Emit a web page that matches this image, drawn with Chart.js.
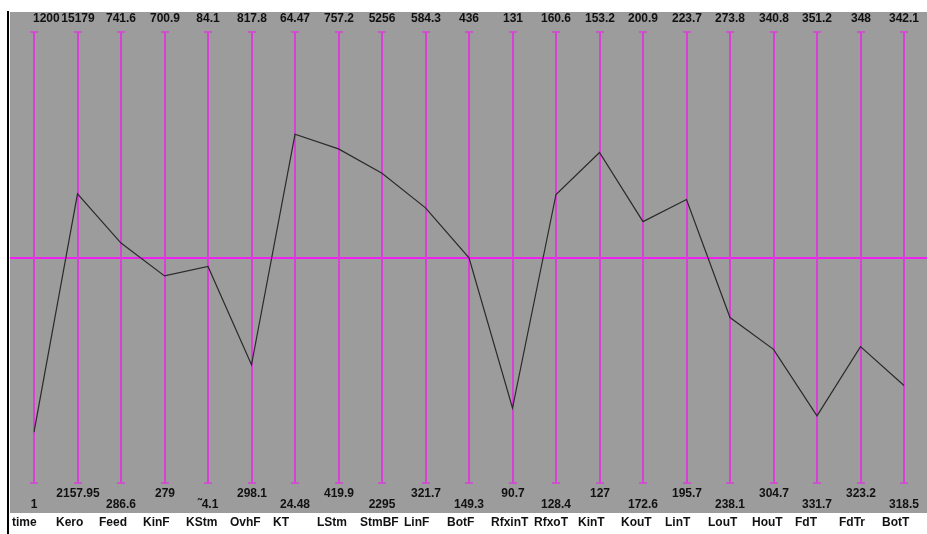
<!DOCTYPE html>
<html>
<head>
<meta charset="utf-8">
<script src="https://cdn.jsdelivr.net/npm/chart.js@4/dist/chart.umd.min.js"></script>
<style>
  html, body { margin: 0; padding: 0; background: #ffffff; }
  #wrap { width: 927px; height: 534px; position: relative; }
</style>
</head>
<body>
<div id="wrap"><canvas id="c" width="927" height="534"></canvas></div>
<script>
// Process tags shown as parallel axes
const categories = ["time", "Kero", "Feed", "KinF", "KStm", "OvhF", "KT", "LStm", "StmBF", "LinF",
  "BotF", "RfxinT", "RfxoT", "KinT", "KouT", "LinT", "LouT", "HouT", "FdT", "FdTr", "BotT"];

// Range of each axis (top = maximum, bottom = minimum)
const maxValues = [1200, 15179, 741.6, 700.9, 84.1, 817.8, 64.47, 757.2, 5256, 584.3,
  436, 131, 160.6, 153.2, 200.9, 223.7, 273.8, 340.8, 351.2, 348, 342.1];
const minValues = [1, 2157.95, 286.6, 279, 74.1, 298.1, 24.48, 419.9, 2295, 321.7,
  149.3, 90.7, 128.4, 127, 172.6, 195.7, 238.1, 304.7, 331.7, 323.2, 318.5];

// Tick labels printed at the ends of each axis
const maxLabels = ["1200", "15179", "741.6", "700.9", "84.1", "817.8", "64.47", "757.2", "5256", "584.3",
  "436", "131", "160.6", "153.2", "200.9", "223.7", "273.8", "340.8", "351.2", "348", "342.1"];
const minLabels = ["1", "2157.95", "286.6", "279", "\u02dc4.1", "298.1", "24.48", "419.9", "2295", "321.7",
  "149.3", "90.7", "128.4", "127", "172.6", "195.7", "238.1", "304.7", "331.7", "323.2", "318.5"];

// Current value of each tag
const values = [136, 10504, 528.7, 472.7, 78.9, 434.3, 55.4, 669.8, 4329, 481.9,
  292.4, 97.4, 149.0, 146.2, 189.0, 213.3, 251.2, 315.4, 334.6, 330.7, 323.6];

// Each tag is scaled into 0..1 on its own axis
const normalized = values.map((v, i) => (v - minValues[i]) / (maxValues[i] - minValues[i]));

const MAGENTA = "#d840d8";
const BG = "#9c9c9c";
const FONT = "bold 12px 'Liberation Sans', Arial, sans-serif";

const frame = {
  id: "frame",
  beforeDraw(chart) {
    const ctx = chart.ctx;
    const y = chart.scales.y;
    ctx.save();
    ctx.fillStyle = "#ffffff";
    ctx.fillRect(0, 0, chart.width, chart.height);
    ctx.fillStyle = BG;
    ctx.fillRect(10, 12, chart.width - 10, 501);
    ctx.fillStyle = "#000000";
    ctx.fillRect(7, 11, 2, chart.height - 11);
    ctx.restore();
  },
  beforeDatasetsDraw(chart) {
    const ctx = chart.ctx;
    const xs = chart.scales.x;
    const ys = chart.scales.y;
    const top = ys.getPixelForValue(1);
    const bot = ys.getPixelForValue(0);
    ctx.save();
    // centre line
    ctx.strokeStyle = "#f020f0";
    ctx.lineWidth = 2;
    const mid = Math.round(ys.getPixelForValue(0.5));
    ctx.beginPath();
    ctx.moveTo(10, mid);
    ctx.lineTo(chart.width, mid);
    ctx.stroke();
    // one vertical axis per tag, capped at both ends
    ctx.strokeStyle = MAGENTA;
    categories.forEach((c, i) => {
      const x = Math.round(xs.getPixelForValue(i));
      ctx.lineWidth = 2;
      ctx.beginPath();
      ctx.moveTo(x, top);
      ctx.lineTo(x, bot);
      ctx.stroke();
      ctx.lineWidth = 1.5;
      ctx.beginPath();
      ctx.moveTo(x - 4, top);
      ctx.lineTo(x + 4, top);
      ctx.moveTo(x - 4, bot);
      ctx.lineTo(x + 4, bot);
      ctx.stroke();
    });
    // axis end labels and tag names
    ctx.font = FONT;
    ctx.fillStyle = "#111111";
    ctx.textBaseline = "middle";
    categories.forEach((c, i) => {
      const x = Math.round(xs.getPixelForValue(i));
      ctx.textAlign = i === 0 ? "left" : "center";
      ctx.fillText(maxLabels[i], i === 0 ? x - 1 : x, 19);
      ctx.textAlign = "center";
      ctx.fillText(minLabels[i], x, i % 2 === 1 ? 494 : 505);
      ctx.textAlign = "left";
      ctx.fillText(c, x - 22, 523);
    });
    ctx.restore();
  }
};

new Chart(document.getElementById("c"), {
  type: "line",
  data: {
    labels: categories,
    datasets: [{
      data: normalized,
      borderColor: "#2a2a2a",
      borderWidth: 1.2,
      pointRadius: 0,
      tension: 0,
      fill: false
    }]
  },
  options: {
    responsive: false,
    animation: false,
    events: [],
    layout: { padding: { left: 34, right: 23, top: 32, bottom: 51 } },
    plugins: { legend: { display: false }, tooltip: { enabled: false } },
    scales: {
      x: { type: "category", display: false, offset: false },
      y: { type: "linear", display: false, min: 0, max: 1 }
    }
  },
  plugins: [frame]
});
</script>
</body>
</html>
